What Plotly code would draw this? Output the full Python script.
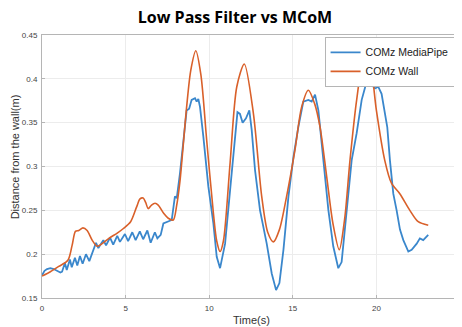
import plotly.graph_objects as go

# COMz MediaPipe (blue)
mp_t = [0.0, 0.15, 0.3, 0.5, 0.7, 0.9, 1.1, 1.2, 1.37, 1.48, 1.67, 1.78, 1.97, 2.11, 2.27, 2.43,
        2.63, 2.83, 3.07, 3.23, 3.37, 3.67, 3.83, 4.07, 4.26, 4.5, 4.66, 4.96, 5.15, 5.4, 5.6,
        5.85, 6.05, 6.3, 6.5, 6.75, 6.9, 7.1, 7.26, 7.55, 7.76, 7.95, 8.06, 8.25, 8.45, 8.65,
        8.8, 8.95, 9.15, 9.25, 9.35, 9.45, 9.65, 9.95, 10.25, 10.45, 10.65, 10.8, 10.95, 11.25,
        11.55, 11.69, 11.84, 12.0, 12.2, 12.4, 12.54, 12.74, 13.04, 13.44, 13.74, 14.0, 14.2,
        14.44, 14.74, 15.04, 15.33, 15.63, 15.93, 16.13, 16.33, 16.53, 16.83, 17.13, 17.42,
        17.72, 17.92, 18.22, 18.52, 18.82, 19.12, 19.42, 19.72, 19.92, 20.11, 20.31, 20.51,
        20.65, 20.81, 21.01, 21.21, 21.41, 21.61, 21.91, 22.11, 22.41, 22.6, 22.8, 23.1]
mp_v = [0.176, 0.181, 0.183, 0.184, 0.183, 0.181, 0.179, 0.180, 0.190, 0.182, 0.194, 0.185,
        0.196, 0.187, 0.198, 0.189, 0.200, 0.192, 0.204, 0.213, 0.207, 0.216, 0.210, 0.219,
        0.211, 0.221, 0.214, 0.223, 0.215, 0.225, 0.216, 0.226, 0.217, 0.227, 0.213, 0.225,
        0.218, 0.222, 0.235, 0.237, 0.239, 0.266, 0.264, 0.292, 0.326, 0.364, 0.366, 0.376,
        0.378, 0.374, 0.377, 0.368, 0.334, 0.277, 0.235, 0.197, 0.184, 0.197, 0.212, 0.273,
        0.338, 0.362, 0.360, 0.350, 0.355, 0.364, 0.342, 0.296, 0.250, 0.212, 0.178, 0.159,
        0.167, 0.205, 0.266, 0.311, 0.345, 0.374, 0.376, 0.374, 0.382, 0.364, 0.307, 0.250,
        0.209, 0.184, 0.191, 0.250, 0.307, 0.338, 0.376, 0.397, 0.393, 0.389, 0.391, 0.383,
        0.361, 0.345, 0.307, 0.269, 0.250, 0.228, 0.216, 0.203, 0.205, 0.212, 0.218, 0.216,
        0.222]

# COMz Wall (orange)
wall_t = [0, 0.5, 1.0, 1.55, 1.8, 2.0, 2.2, 2.45, 2.7, 3.0, 3.3, 3.6, 4.0, 4.5, 4.85, 5.3,
          5.66, 5.86, 6.05, 6.2, 6.35, 6.55, 6.76, 6.95, 7.3, 7.55, 7.85, 8.05, 8.25, 8.45,
          8.65, 8.9, 9.2, 9.5, 9.85, 10.25, 10.45, 10.65, 10.85, 11.25, 11.65, 12.1, 12.64,
          13.14, 13.5, 13.84, 14.2, 14.63, 15.13, 15.53, 15.93, 16.3, 16.63, 17.03, 17.4,
          17.78, 18.1, 18.42, 18.82, 19.3, 19.65, 20.0, 20.5, 20.9, 21.4, 22.0, 22.5, 23.1]
wall_v = [0.175, 0.180, 0.186, 0.193, 0.210, 0.226, 0.227, 0.230, 0.227, 0.216, 0.209, 0.212,
          0.218, 0.224, 0.229, 0.237, 0.254, 0.263, 0.264, 0.259, 0.252, 0.256, 0.258, 0.256,
          0.246, 0.241, 0.239, 0.255, 0.283, 0.325, 0.368, 0.410, 0.432, 0.405, 0.330, 0.247,
          0.215, 0.203, 0.215, 0.304, 0.391, 0.417, 0.361, 0.266, 0.225, 0.214, 0.228, 0.266,
          0.319, 0.368, 0.387, 0.372, 0.345, 0.288, 0.235, 0.205, 0.240, 0.307, 0.376, 0.430,
          0.415, 0.364, 0.307, 0.281, 0.269, 0.250, 0.237, 0.233]

x_ticks = [0, 5, 10, 15, 20, 25]
y_ticks = [0.15, 0.2, 0.25, 0.3, 0.35, 0.4, 0.45]
y_tick_text = ["0.15", "0.2", "0.25", "0.3", "0.35", "0.4", "0.45"]

fig = go.Figure()
fig.add_trace(go.Scatter(x=mp_t, y=mp_v, mode="lines", name="COMz MediaPipe",
                         line=dict(color="#3a87cc", width=1.8)))
fig.add_trace(go.Scatter(x=wall_t, y=wall_v, mode="lines", name="COMz Wall",
                         line=dict(color="#d9602a", width=1.6, shape="spline", smoothing=0.8)))

tick_font = dict(family="Liberation Sans, Arial", size=8, color="#444")
axis_common = dict(showline=True, linecolor="#b5b5b5", linewidth=1, mirror=True,
                   showgrid=True, gridcolor="#ececec", gridwidth=1, zeroline=False,
                   ticks="inside", ticklen=3, tickcolor="#b5b5b5",
                   tickfont=tick_font, automargin=False)

fig.update_xaxes(range=[0, 25], tickvals=x_ticks, ticktext=[str(v) for v in x_ticks],
                 ticklabelstandoff=2, **axis_common)
fig.update_yaxes(range=[0.15, 0.45], tickvals=y_ticks, ticktext=y_tick_text,
                 ticklabelstandoff=2, **axis_common)

label_font = dict(family="Liberation Sans, Arial", size=11, color="#333")
fig.update_layout(
    width=454, height=319,
    margin=dict(l=34, r=2, t=27, b=29, autoexpand=False),
    paper_bgcolor="white", plot_bgcolor="white",
    title=dict(text="<b>Low Pass Filter vs MCoM</b>", x=0.5, xanchor="center",
               y=0.988, yanchor="top",
               font=dict(family="Open Sans", size=16, color="black")),
    legend=dict(x=0.676, y=0.993, xanchor="left", yanchor="top",
                bgcolor="white", bordercolor="#b5b5b5", borderwidth=1,
                font=dict(family="Liberation Sans, Arial", size=10.5, color="#222"),
                tracegroupgap=0, itemwidth=30),
    showlegend=True,
    annotations=[
        dict(text="Time(s)", xref="paper", yref="paper", x=0.5, y=-0.084,
             xanchor="center", yanchor="middle", showarrow=False, font=label_font),
        dict(text="Distance from the wall(m)", xref="paper", yref="paper", x=-0.065, y=0.538,
             xanchor="center", yanchor="middle", textangle=-90, showarrow=False, font=label_font),
    ],
)

fig.write_html("out.html")
